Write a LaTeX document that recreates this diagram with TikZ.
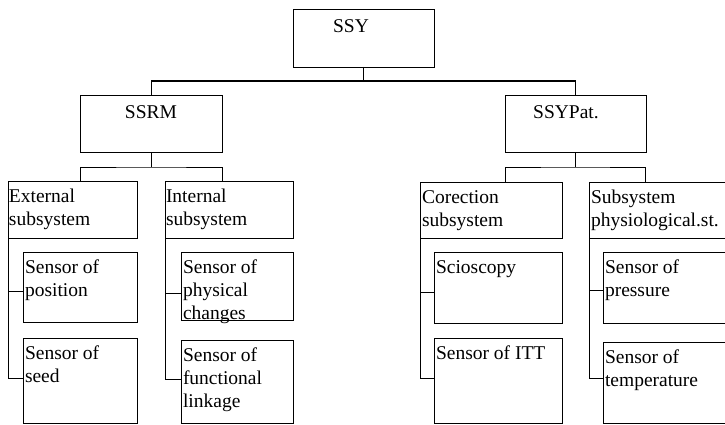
\documentclass[tikz,border=0pt]{standalone}
\usepackage{fontspec}
\setmainfont{Liberation Serif}
\newcommand{\lnstrut}{\rule{0pt}{15pt}}
\begin{document}
\begin{tikzpicture}[x=1pt,y=1pt,
  box/.style={draw, line width=0.8pt, inner sep=0pt, outer sep=0pt, anchor=north west},
  lbl/.style={inner sep=0pt, outer sep=0pt, anchor=north west, align=left,
              font=\fontsize{19.5}{23}\selectfont},
  ttl/.style={inner sep=0pt, outer sep=0pt, anchor=base,
              font=\fontsize{19.5}{23}\selectfont},
  wire/.style={line width=0.8pt},
  bus/.style={line width=1.3pt}]
\useasboundingbox (0,0) rectangle (725,-425);
\fill[white] (0,0) rectangle (725,-425);
\clip (0,0) rectangle (725,-425);

% boxes
\node[box, minimum width=141, minimum height=58] (ssy)  at (293,-9)   {};
\node[box, minimum width=142, minimum height=57] (ssrm) at (80,-95)   {};
\node[box, minimum width=141, minimum height=57] (pat)  at (505,-95)  {};
\node[box, minimum width=129, minimum height=57] (ext)  at (8,-181)   {};
\node[box, minimum width=128, minimum height=57] (int)  at (165,-181) {};
\node[box, minimum width=142, minimum height=56] (cor)  at (420,-182) {};
\node[box, minimum width=160, minimum height=56] (sub)  at (589,-182) {};
\node[box, minimum width=114, minimum height=70] (pos)  at (23,-252)  {};
\node[box, minimum width=114, minimum height=85.5] (seed) at (23,-338) {};
\node[box, minimum width=112, minimum height=68] (phys) at (181,-252) {};
\node[box, minimum width=112, minimum height=83.5] (func) at (181,-340) {};
\node[box, minimum width=128, minimum height=71] (scio) at (434,-252) {};
\node[box, minimum width=128, minimum height=85.5] (itt) at (434,-338) {};
\node[box, minimum width=140, minimum height=71] (pres) at (603,-252) {};
\node[box, minimum width=140, minimum height=81.5] (temp) at (603,-342) {};

% titles
\node[ttl] (ssyT)  at (351,-33)  {SSY};
\node[ttl] (ssrmT) at (151,-118) {SSRM};
\node[ttl] (patT)  at (566,-118) {SSYPat.};

% box texts
\node[lbl] (extT)  at ([shift={(1,-6.5)}]ext.north west)  {\lnstrut External\\subsystem};
\node[lbl] (intT)  at ([shift={(1,-6.5)}]int.north west)  {\lnstrut Internal\\subsystem};
\node[lbl] (corT)  at ([shift={(2,-6.5)}]cor.north west)  {\lnstrut Corection\\subsystem};
\node[lbl] (subT)  at ([shift={(2,-6.5)}]sub.north west)  {\lnstrut Subsystem\\physiological.st.};
\node[lbl] (posT)  at ([shift={(2,-6.5)}]pos.north west)  {\lnstrut Sensor of\\position};
\node[lbl] (seedT) at ([shift={(2,-6.5)}]seed.north west) {\lnstrut Sensor of\\seed};
\node[lbl] (physT) at ([shift={(2,-6.5)}]phys.north west) {\lnstrut Sensor of\\physical\\changes};
\node[lbl] (funcT) at ([shift={(2,-6.5)}]func.north west) {\lnstrut Sensor of\\functional\\linkage};
\node[lbl] (scioT) at ([shift={(2,-6.5)}]scio.north west) {\lnstrut Scioscopy};
\node[lbl] (ittT)  at ([shift={(2,-6.5)}]itt.north west)  {\lnstrut Sensor of ITT};
\node[lbl] (presT) at ([shift={(2,-6.5)}]pres.north west) {\lnstrut Sensor of\\pressure};
\node[lbl] (tempT) at ([shift={(2,-6.5)}]temp.north west) {\lnstrut Sensor of\\temperature};

% top level
\draw[wire] (ssy.south) -- ++(0,-14) coordinate (j0);
\draw[wire] (ssrm.north) -- (ssrm.north |- j0);
\draw[wire] (pat.north) -- (pat.north |- j0);
\draw[bus] (ssrm.north |- j0) -- (pat.north |- j0);

% second level
\draw[wire] (ssrm.south) -- ++(0,-15) coordinate (j1);
\draw[wire] ([xshift=72pt]ext.north west) |- (j1) -| ([xshift=57pt]int.north west);
\draw[wire] (pat.south) -- ++(0,-15) coordinate (j2);
\draw[wire] ([xshift=85pt]cor.north west) |- (j2) -| ([xshift=56pt]sub.north west);

% sensor rails
\coordinate (b1) at ([yshift=-39pt]pos.north west);
\coordinate (b2) at ([yshift=-40pt]seed.north west);
\draw[wire] (ext.south west) |- (b2);
\draw[wire] (ext.south west |- b1) -- (b1);

\coordinate (b3) at ([yshift=-41pt]phys.north west);
\coordinate (b4) at ([yshift=-39pt]func.north west);
\draw[wire] (int.south west) |- (b4);
\draw[wire] (int.south west |- b3) -- (b3);

\coordinate (b5) at ([yshift=-40pt]scio.north west);
\coordinate (b6) at ([yshift=-40pt]itt.north west);
\draw[wire] (cor.south west) |- (b6);
\draw[wire] (cor.south west |- b5) -- (b5);

\coordinate (b7) at ([yshift=-38pt]pres.north west);
\coordinate (b8) at ([yshift=-36pt]temp.north west);
\draw[wire] (sub.south west) |- (b8);
\draw[wire] (sub.south west |- b7) -- (b7);
\end{tikzpicture}
\end{document}
